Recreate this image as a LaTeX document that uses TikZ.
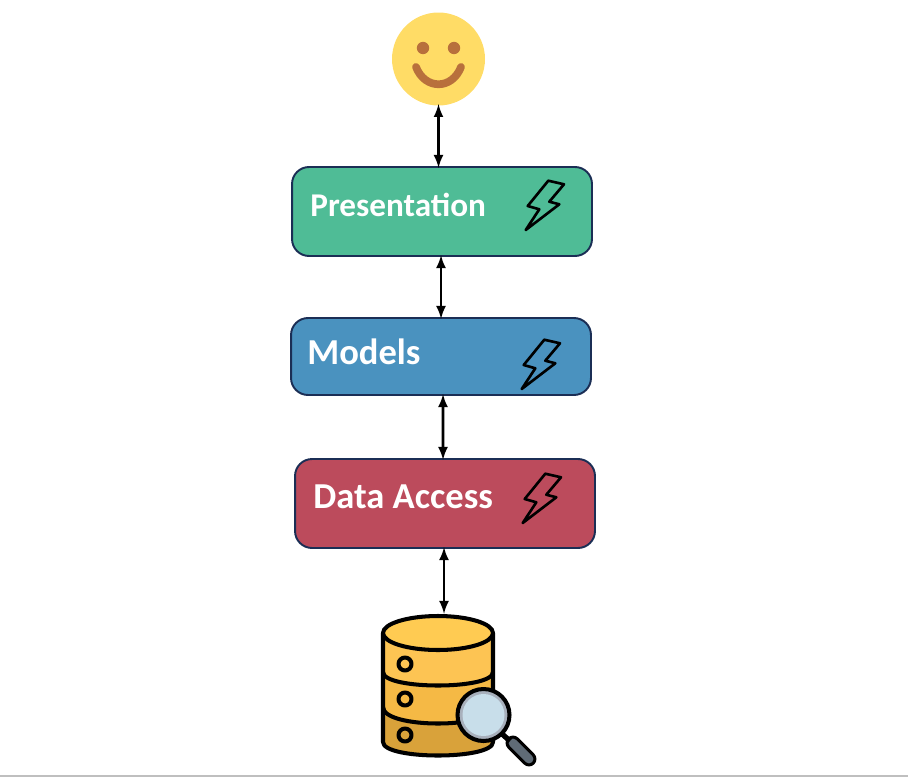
\documentclass[tikz,border=0pt]{standalone}
\usepackage{fontspec}
\setmainfont{Carlito}
\definecolor{contorno}{HTML}{1B2E55}
\definecolor{verde}{HTML}{4FBC96}
\definecolor{azul}{HTML}{4A92BF}
\definecolor{vermelho}{HTML}{BC4B5C}
\definecolor{rosto}{HTML}{FFDC66}
\definecolor{traco}{HTML}{B8703C}
\definecolor{tampa}{HTML}{FFCB52}
\definecolor{disco1}{HTML}{FDC453}
\definecolor{disco2}{HTML}{F5B945}
\definecolor{disco3}{HTML}{D9A23A}
\definecolor{aro}{HTML}{A8B0BC}
\definecolor{vidro}{HTML}{C8DEEA}
\definecolor{cabo}{HTML}{5F6B76}
\tikzset{
  pics/raio/.style={code={
    \draw[line width=1.5pt, line join=round]
      (3.3,-24.3) -- (19,-20.7) -- (4.3,-3.3) -- (14.3,-0.7) -- (-19.3,25) -- (-5.7,4.3) -- (-17.3,1) -- cycle;
  }}
}
\begin{document}
\begin{tikzpicture}[x=0.02cm, y=-0.02cm, >=latex]
\tikzstyle{camada}=[rectangle, rounded corners=0.34cm, draw=contorno, line width=1.1pt, minimum width=6cm, inner sep=0pt]
\tikzstyle{titulo}=[anchor=base west, inner sep=0pt, text=white, font=\fontsize{20.8}{22}\selectfont\bfseries]
\tikzstyle{seta}=[<->, line width=1.5pt, shorten >=-1pt, shorten <=-1pt]
\tikzstyle{contornodb}=[draw=black, line width=2.3pt, line join=round]
\useasboundingbox (0,0) rectangle (908,777);
\draw[black!25, line width=1pt] (0,776) -- (908,776);
% rosto
\node[circle, fill=rosto, minimum size=1.86cm, inner sep=0pt] (usuario) at (438.5,59) {};
\fill[traco] (423,48) circle (6.2) (454,48) circle (6.2);
\draw[traco, line width=4.4pt, line cap=round] (416,67) .. controls (425,90) and (452,90) .. (461,67);
% camadas
\node[camada, fill=verde, minimum height=1.78cm] (presentation) at (442,211.5) {};
\node[camada, fill=azul, minimum height=1.54cm] (models) at (441,356.5) {};
\node[camada, fill=vermelho, minimum height=1.78cm] (dataaccess) at (445,503.5) {};
\node[titulo, font=\fontsize{18.9}{20}\selectfont\bfseries] (presentationtxt) at (310,216) {Presentation};
\node[titulo] (modelstxt) at (307,364) {Models};
\node[titulo] (dataaccesstxt) at (313,508.5) {Data Access};
\pic at (545,205) {raio};
\pic at (541,364) {raio};
\pic at (542,498) {raio};
% banco de dados
\coordinate (banco) at (444,612);
\fill[disco3] (383,707) -- (383,742) .. controls (383,760) and (493,760) .. (493,742) -- (493,707) -- cycle;
\fill[disco2] (383,672) -- (383,707) .. controls (383,729) and (493,729) .. (493,707) -- (493,672) -- cycle;
\fill[disco1] (383,633) -- (383,672) .. controls (383,690) and (493,690) .. (493,672) -- (493,633) -- cycle;
\draw[contornodb] (383,633) -- (383,742) .. controls (383,760) and (493,760) .. (493,742) -- (493,633);
\draw[contornodb] (383,672) .. controls (383,690) and (493,690) .. (493,672);
\draw[contornodb] (383,707) .. controls (383,729) and (493,729) .. (493,707);
\draw[contornodb, fill=tampa] (438,633) ellipse (55 and 17);
\foreach \yfuro in {664,699,735}
  \draw[contornodb] (405,\yfuro) circle (6.5);
% lupa
\draw[line width=8.5pt, line cap=round] (513,743) -- (529,759);
\draw[line width=5pt, cabo, line cap=round] (513,743) -- (529,759);
\draw[line width=3pt] (501,733) -- (510,741);
\draw[contornodb, fill=aro] (483.5,715) circle (26);
\fill[vidro] (483.5,715) circle (21);
% setas
\draw[seta] (usuario.south) -- (usuario.south |- presentation.north);
\draw[seta] (models.north |- presentation.south) -- (models.north);
\draw[seta] ([xshift=0.04cm]models.south) -- ([xshift=-0.04cm]dataaccess.north);
\draw[seta] ([xshift=-0.02cm]dataaccess.south) -- (banco);
\end{tikzpicture}
\end{document}
